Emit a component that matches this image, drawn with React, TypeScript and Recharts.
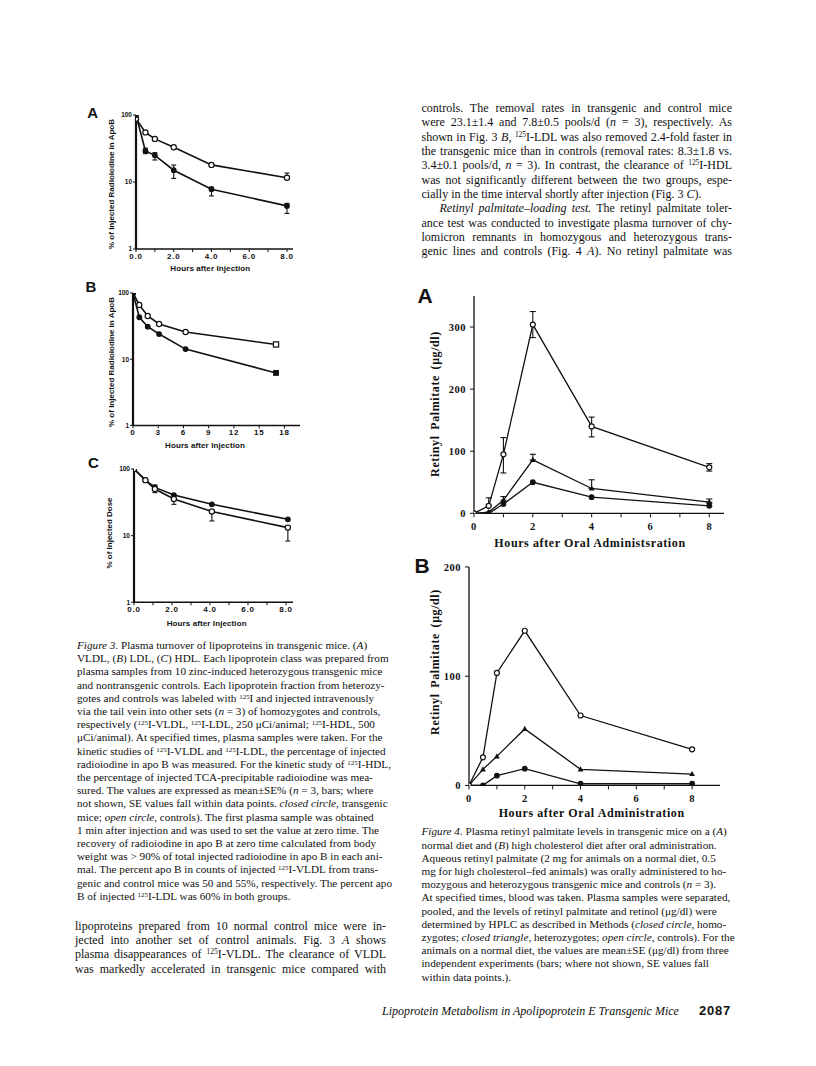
import React from 'react';
import { LineChart, Line, XAxis, YAxis, ErrorBar } from 'recharts';

// ---------- Figure 3A (VLDL) ----------
const vldlHours = [0, 0.5, 1, 2, 4, 8];
const vldlControl = [88, 55, 44, 33, 18, 11.6];
const vldlControlErr = [null, null, null, null, null, [0.3, 2]];
const vldlTransgenic = [100, 29, 25, 15, 7.8, 4.4];
const vldlTransgenicErr = [null, [2.5, 3], [3.7, 2.4], [3.7, 2.9], [1.6, 0.6], [1, 0.4]];

// ---------- Figure 3B (LDL) ----------
const ldlHours = [0, 0.75, 1.75, 3.1, 6.25, 17];
const ldlControl = [100, 66, 45, 34, 25.7, 16.7];
const ldlTransgenic = [100, 43, 31, 24, 14.2, 6.2];

// ---------- Figure 3C (HDL) ----------
const hdlHours = [0, 0.6, 1.1, 2.1, 4.1, 8.1];
const hdlTransgenic = [100, 68, 53, 40.6, 29.5, 17.6];
const hdlControl = [100, 68, 50, 35.5, 23, 13.2];
const hdlControlErr = [null, null, [5.8, 7.5], [6, 5], [6.4, 1], [4.9, 1]];

const logTicks = [1, 10, 100];
const hourTicks8 = [0, 1, 2, 3, 4, 5, 6, 7, 8];
const hourTicks18 = [0, 3, 6, 9, 12, 15, 18];

// ---------- Figure 4A (normal diet) ----------
const oralHours = [0, 0.5, 1, 2, 4, 8];
const normalControl = [0, 12, 95, 304, 140, 74];
const normalControlErr = [null, [0, 13], [30, 27], [21, 21], [17, 15], [6, 6]];
const normalHetero = [0, 2, 21, 86, 40, 18];
const normalHeteroErr = [null, null, [0, 6], [0, 9], [0, 14], [0, 5]];
const normalHomo = [0, 0, 15, 50, 26, 12];
const normalHomoErr = [null, null, null, null, null, [0, 4]];

// ---------- Figure 4B (high cholesterol diet) ----------
const cholControl = [0, 25.7, 103, 141.6, 64, 33];
const cholHetero = [0, 14.7, 26.6, 51.7, 14.7, 10.4];
const cholHomo = [0, 0, 8.9, 15.3, 1.5, 1.5];

const normalTicks = [0, 100, 200, 300];
const cholTicks = [0, 100, 200];

// ---------- text ----------
const bodyTopLines = [
  'controls. The removal rates in transgenic and control mice',
  'were 23.1±1.4 and 7.8±0.5 pools/d (_n_ = 3), respectively. As',
  'shown in Fig. 3 _B,_ ^125^I-LDL was also removed 2.4-fold faster in',
  'the transgenic mice than in controls (removal rates: 8.3±1.8 vs.',
  '3.4±0.1 pools/d, _n_ = 3). In contrast, the clearance of ^125^I-HDL',
  'was not significantly different between the two groups, espe-',
  'cially in the time interval shortly after injection (Fig. 3 _C_).',
  '_Retinyl palmitate–loading test._ The retinyl palmitate toler-',
  'ance test was conducted to investigate plasma turnover of chy-',
  'lomicron remnants in homozygous and heterozygous trans-',
  'genic lines and controls (Fig. 4 _A_). No retinyl palmitate was',
];

const bodyLeftLines = [
  'lipoproteins prepared from 10 normal control mice were in-',
  'jected into another set of control animals. Fig. 3 _A_ shows',
  'plasma disappearances of ^125^I-VLDL. The clearance of VLDL',
  'was markedly accelerated in transgenic mice compared with',
];

const caption3Lines = [
  '_Figure 3._ Plasma turnover of lipoproteins in transgenic mice. (_A_)',
  'VLDL, (_B_) LDL, (_C_) HDL. Each lipoprotein class was prepared from',
  'plasma samples from 10 zinc-induced heterozygous transgenic mice',
  'and nontransgenic controls. Each lipoprotein fraction from heterozy-',
  'gotes and controls was labeled with ^125^I and injected intravenously',
  'via the tail vein into other sets (_n_ = 3) of homozygotes and controls,',
  'respectively (^125^I-VLDL, ^125^I-LDL, 250 μCi/animal; ^125^I-HDL, 500',
  'μCi/animal). At specified times, plasma samples were taken. For the',
  'kinetic studies of ^125^I-VLDL and ^125^I-LDL, the percentage of injected',
  'radioiodine in apo B was measured. For the kinetic study of ^125^I-HDL,',
  'the percentage of injected TCA-precipitable radioiodine was mea-',
  'sured. The values are expressed as mean±SE% (_n_ = 3, bars; where',
  'not shown, SE values fall within data points. _closed circle,_ transgenic',
  'mice; _open circle,_ controls). The first plasma sample was obtained',
  '1 min after injection and was used to set the value at zero time. The',
  'recovery of radioiodine in apo B at zero time calculated from body',
  'weight was > 90% of total injected radioiodine in apo B in each ani-',
  'mal. The percent apo B in counts of injected ^125^I-VLDL from trans-',
  'genic and control mice was 50 and 55%, respectively. The percent apo',
  'B of injected ^125^I-LDL was 60% in both groups.',
];

const caption4Lines = [
  '_Figure 4._ Plasma retinyl palmitate levels in transgenic mice on a (_A_)',
  'normal diet and (_B_) high cholesterol diet after oral administration.',
  'Aqueous retinyl palmitate (2 mg for animals on a normal diet, 0.5',
  'mg for high cholesterol–fed animals) was orally administered to ho-',
  'mozygous and heterozygous transgenic mice and controls (_n_ = 3).',
  'At specified times, blood was taken. Plasma samples were separated,',
  'pooled, and the levels of retinyl palmitate and retinol (μg/dl) were',
  'determined by HPLC as described in Methods (_closed circle,_ homo-',
  'zygotes; _closed triangle,_ heterozygotes; _open circle,_ controls). For the',
  'animals on a normal diet, the values are mean±SE (μg/dl) from three',
  'independent experiments (bars; where not shown, SE values fall',
  'within data points.).',
];

const footerTitle = 'Lipoprotein Metabolism in Apolipoprotein E Transgenic Mice';
const footerPage = '2087';

// ---------- helpers ----------
const SERIF = '"Liberation Serif", "Times New Roman", serif';
const SANS = '"Liberation Sans", Arial, sans-serif';
const INK = '#111';

function rich(s: string) {
  const parts = s.split(/(\^[^^]*\^|_[^_]*_)/g);
  return parts.map((p, i) => {
    if (p.length > 1 && p[0] === '^' && p[p.length - 1] === '^')
      return (
        <sup key={i} style={{ fontSize: '0.62em', lineHeight: 0, verticalAlign: '0.5em' }}>
          {p.slice(1, -1)}
        </sup>
      );
    if (p.length > 1 && p[0] === '_' && p[p.length - 1] === '_') return <i key={i}>{p.slice(1, -1)}</i>;
    return <React.Fragment key={i}>{p}</React.Fragment>;
  });
}

type Block = {
  lines: string[];
  left: number;
  width: number;
  y0: number;
  step: number;
  size: number;
  justify: boolean;
  noJustify?: number[];
  indent?: number[];
};

function TextBlock(b: Block) {
  return (
    <>
      {b.lines.map((l, i) => {
        const j = b.justify && !(b.noJustify || []).includes(i);
        return (
          <div
            key={i}
            style={{
              position: 'absolute',
              left: b.left,
              top: b.y0 + i * b.step - b.step / 2,
              width: b.width,
              height: b.step,
              lineHeight: b.step + 'px',
              fontSize: b.size,
              fontFamily: SERIF,
              color: INK,
              whiteSpace: 'nowrap',
              textAlign: j ? 'justify' : 'left',
              textAlignLast: j ? 'justify' : 'left',
              textIndent: (b.indent || []).includes(i) ? 18 : 0,
            }}
          >
            {rich(l)}
          </div>
        );
      })}
    </>
  );
}

function Label(props: { text: string; x: number; y: number; size: number; font: string; rotate?: boolean; bold?: boolean; ls?: number; ws?: number }) {
  return (
    <div
      style={{
        position: 'absolute',
        left: props.x,
        top: props.y,
        transform: `translate(-50%, -50%)${props.rotate ? ' rotate(-90deg)' : ''}`,
        fontSize: props.size,
        fontFamily: props.font,
        fontWeight: props.bold === false ? 400 : 700,
        letterSpacing: props.ls || 0,
        wordSpacing: props.ws || 0,
        whiteSpace: 'nowrap',
        lineHeight: 1,
        color: INK,
      }}
    >
      {props.text}
    </div>
  );
}

type Box = { x: number; y: number; w: number; h: number };
type Series = { key: string; err?: string; dot: 'open' | 'closed' | 'tri'; r: number; squareLast?: boolean };

function makeDot(s: Series, n: number) {
  return (props: any) => {
    const { cx, cy, index } = props;
    if (cx == null || cy == null) return <g key={`d${index}`} />;
    const r = s.r;
    if (s.dot === 'tri')
      return (
        <path
          key={`d${index}`}
          d={`M${cx},${cy - r * 1.3}L${cx + r * 1.2},${cy + r * 0.85}L${cx - r * 1.2},${cy + r * 0.85}Z`}
          fill={INK}
        />
      );
    const fill = s.dot === 'open' ? '#fff' : INK;
    if (s.squareLast && index === n - 1)
      return <rect key={`d${index}`} x={cx - r} y={cy - r} width={2 * r} height={2 * r} fill={fill} stroke={INK} strokeWidth={1.2} />;
    return <circle key={`d${index}`} cx={cx} cy={cy} r={r} fill={fill} stroke={INK} strokeWidth={1.2} />;
  };
}

type ChartProps = {
  box: Box;
  yw: number;
  xh: number;
  rows: any[];
  xDomain: [number, number];
  xTicks: number[];
  xFmt: (v: number) => string;
  yLog?: boolean;
  yDomain: [number, number];
  yTicks: number[];
  series: Series[];
  xTickFont: any;
  yTickFont: any;
  xAxisW: number;
  yAxisW: number;
  lineW: number;
  tickSize: number;
  xTickMargin: number;
  yTickMargin: number;
  capW: number;
};

function Chart(p: ChartProps) {
  const pad = 8;
  const width = p.yw + p.box.w + pad;
  const height = pad + p.box.h + p.xh;
  return (
    <div style={{ position: 'absolute', left: p.box.x - p.yw, top: p.box.y - pad }}>
      <LineChart width={width} height={height} data={p.rows} margin={{ top: pad, right: pad, bottom: 0, left: 0 }}>
        <XAxis
          dataKey="h"
          type="number"
          domain={p.xDomain}
          ticks={p.xTicks}
          tickFormatter={p.xFmt}
          allowDataOverflow
          interval={0}
          height={p.xh}
          axisLine={{ stroke: INK, strokeWidth: p.xAxisW }}
          tickLine={{ stroke: INK, strokeWidth: 1 }}
          tickSize={p.tickSize}
          tickMargin={p.xTickMargin}
          tick={p.xTickFont}
        />
        <YAxis
          type="number"
          scale={p.yLog ? 'log' : 'auto'}
          domain={p.yDomain}
          ticks={p.yTicks}
          allowDataOverflow
          interval={0}
          width={p.yw}
          axisLine={{ stroke: INK, strokeWidth: p.yAxisW }}
          tickLine={{ stroke: INK, strokeWidth: 1 }}
          tickSize={p.tickSize}
          tickMargin={p.yTickMargin}
          tick={p.yTickFont}
        />
        {p.series.map((s) => (
          <Line
            key={s.key}
            dataKey={s.key}
            type="linear"
            stroke={INK}
            strokeWidth={p.lineW}
            isAnimationActive={false}
            dot={makeDot(s, p.rows.length)}
            activeDot={false}
          >
            {s.err ? <ErrorBar dataKey={s.err} width={p.capW} stroke={INK} strokeWidth={1.1} direction="y" /> : null}
          </Line>
        ))}
      </LineChart>
    </div>
  );
}

// ---------- rows ----------
const vldlRows = vldlHours.map((h, i) => ({
  h,
  ctrl: vldlControl[i],
  ctrlErr: vldlControlErr[i],
  tg: vldlTransgenic[i],
  tgErr: vldlTransgenicErr[i],
}));
const ldlRows = ldlHours.map((h, i) => ({ h, ctrl: ldlControl[i], tg: ldlTransgenic[i] }));
const hdlRows = hdlHours.map((h, i) => ({ h, ctrl: hdlControl[i], ctrlErr: hdlControlErr[i], tg: hdlTransgenic[i] }));
const normalRows = oralHours.map((h, i) => ({
  h,
  ctrl: normalControl[i],
  ctrlErr: normalControlErr[i],
  het: normalHetero[i],
  hetErr: normalHeteroErr[i],
  homo: normalHomo[i],
  homoErr: normalHomoErr[i],
}));
const cholRows = oralHours.map((h, i) => ({ h, ctrl: cholControl[i], het: cholHetero[i], homo: cholHomo[i] }));

const fig3XTick = { fill: INK, fontSize: 8, fontWeight: 700, fontFamily: SANS, letterSpacing: 0.8 };
const fig3YTick = { fill: INK, fontSize: 6.5, fontWeight: 700, fontFamily: SANS };
const fig4Tick = { fill: INK, fontSize: 10.5, fontWeight: 700, fontFamily: SERIF, letterSpacing: 0.5 };

const fig3Common = {
  yw: 30,
  xh: 18,
  yLog: true,
  yDomain: [1, 100] as [number, number],
  yTicks: logTicks,
  xTickFont: fig3XTick,
  yTickFont: fig3YTick,
  xAxisW: 1.5,
  yAxisW: 2.2,
  lineW: 1.6,
  tickSize: 3,
  xTickMargin: 1,
  yTickMargin: 1,
  capW: 2.5,
};

const fig4Common = {
  yw: 40,
  xh: 24,
  xTickFont: fig4Tick,
  yTickFont: fig4Tick,
  xAxisW: 1.3,
  yAxisW: 1.3,
  lineW: 1.3,
  tickSize: 4,
  xTickMargin: 5,
  yTickMargin: 4,
  capW: 3,
};

const evenDecimal = (v: number) => (v % 2 === 0 ? v.toFixed(1) : '');
const evenInt = (v: number) => (v % 2 === 0 ? String(v) : '');

export default function App() {
  return (
    <div style={{ position: 'absolute', left: 0, top: 0, width: 816, height: 1066, background: '#fff', overflow: 'hidden' }}>
      {/* Figure 3A */}
      <Label text="A" x={92.7} y={111.7} size={15} font={SANS} />
      <Chart
        {...fig3Common}
        box={{ x: 136, y: 115, w: 157, h: 134 }}
        rows={vldlRows}
        xDomain={[0, 8.32]}
        xTicks={hourTicks8}
        xFmt={evenDecimal}
        series={[
          { key: 'ctrl', err: 'ctrlErr', dot: 'open', r: 2.6 },
          { key: 'tg', err: 'tgErr', dot: 'closed', r: 2.3 },
        ]}
      />
      <Label text="% of Injected Radioiodine in ApoB" x={112} y={184} size={8} font={SANS} rotate />
      <Label text="Hours after Injection" x={210.3} y={269} size={8} font={SANS} ls={0.1} />

      {/* Figure 3B */}
      <Label text="B" x={91} y={286} size={15} font={SANS} />
      <Chart
        {...fig3Common}
        box={{ x: 133, y: 293.3, w: 167, h: 132.4 }}
        rows={ldlRows}
        xDomain={[0, 19.85]}
        xTicks={hourTicks18}
        xFmt={(v: number) => String(v)}
        series={[
          { key: 'ctrl', dot: 'open', r: 2.6, squareLast: true },
          { key: 'tg', dot: 'closed', r: 2.3, squareLast: true },
        ]}
      />
      <Label text="% of Injected Radioiodine in ApoB" x={112} y={361.7} size={8} font={SANS} rotate />
      <Label text="Hours after Injection" x={205} y={446} size={8} font={SANS} ls={0.1} />

      {/* Figure 3C */}
      <Label text="C" x={93.3} y={462} size={15} font={SANS} />
      <Chart
        {...fig3Common}
        box={{ x: 134, y: 469, w: 159, h: 133.3 }}
        rows={hdlRows}
        xDomain={[0, 8.37]}
        xTicks={hourTicks8}
        xFmt={evenDecimal}
        series={[
          { key: 'tg', dot: 'closed', r: 2.3 },
          { key: 'ctrl', err: 'ctrlErr', dot: 'open', r: 2.6 },
        ]}
      />
      <Label text="% of Injected Dose" x={110} y={533} size={8} font={SANS} rotate />
      <Label text="Hours after Injection" x={206.7} y={624} size={8} font={SANS} ls={0.1} />

      {/* Caption 3 and left body */}
      <TextBlock lines={caption3Lines} left={77} width={313} y0={645.5} step={13.2} size={11.2} justify={false} />
      <TextBlock lines={bodyLeftLines} left={75} width={311} y0={926} step={14.3} size={12} justify />

      {/* Right column body */}
      <TextBlock lines={bodyTopLines} left={421.5} width={310.5} y0={108.3} step={14.3} size={12} justify noJustify={[6]} indent={[7]} />

      {/* Figure 4A */}
      <Label text="A" x={425} y={295} size={21} font={SANS} />
      <Chart
        {...fig4Common}
        box={{ x: 474, y: 296, w: 250, h: 217.3 }}
        rows={normalRows}
        xDomain={[0, 8.5]}
        xTicks={hourTicks8}
        xFmt={evenInt}
        yDomain={[0, 350]}
        yTicks={normalTicks}
        series={[
          { key: 'homo', err: 'homoErr', dot: 'closed', r: 2.3 },
          { key: 'het', err: 'hetErr', dot: 'tri', r: 2.4 },
          { key: 'ctrl', err: 'ctrlErr', dot: 'open', r: 2.5 },
        ]}
      />
      <Label text="Retinyl Palmitate (μg/dl)" x={435} y={404} size={12} font={SERIF} rotate ls={0.6} ws={2} />
      <Label text="Hours after Oral Administsration" x={590} y={542.7} size={12} font={SERIF} ls={0.6} />

      {/* Figure 4B */}
      <Label text="B" x={422} y={564.5} size={21} font={SANS} />
      <Chart
        {...fig4Common}
        box={{ x: 469, y: 567.3, w: 251, h: 218.4 }}
        rows={cholRows}
        xDomain={[0, 9]}
        xTicks={hourTicks8}
        xFmt={evenInt}
        yDomain={[0, 200]}
        yTicks={cholTicks}
        series={[
          { key: 'homo', dot: 'closed', r: 2.3 },
          { key: 'het', dot: 'tri', r: 2.4 },
          { key: 'ctrl', dot: 'open', r: 2.5 },
        ]}
      />
      <Label text="Retinyl Palmitate (μg/dl)" x={435} y={662} size={12} font={SERIF} rotate ls={0.6} ws={2} />
      <Label text="Hours after Oral Administration" x={591.7} y={813} size={12} font={SERIF} ls={0.6} />

      {/* Caption 4 */}
      <TextBlock lines={caption4Lines} left={421.5} width={312} y0={832} step={13.2} size={11.2} justify={false} />

      {/* Footer */}
      <div
        style={{
          position: 'absolute',
          right: 816 - 731,
          top: 1003,
          whiteSpace: 'nowrap',
          color: INK,
          lineHeight: '14px',
        }}
      >
        <span style={{ fontFamily: SERIF, fontStyle: 'italic', fontSize: 12 }}>{footerTitle}</span>
        <span style={{ display: 'inline-block', width: 20 }} />
        <span style={{ fontFamily: SANS, fontWeight: 700, fontSize: 13, letterSpacing: 0.8 }}>{footerPage}</span>
      </div>
    </div>
  );
}
